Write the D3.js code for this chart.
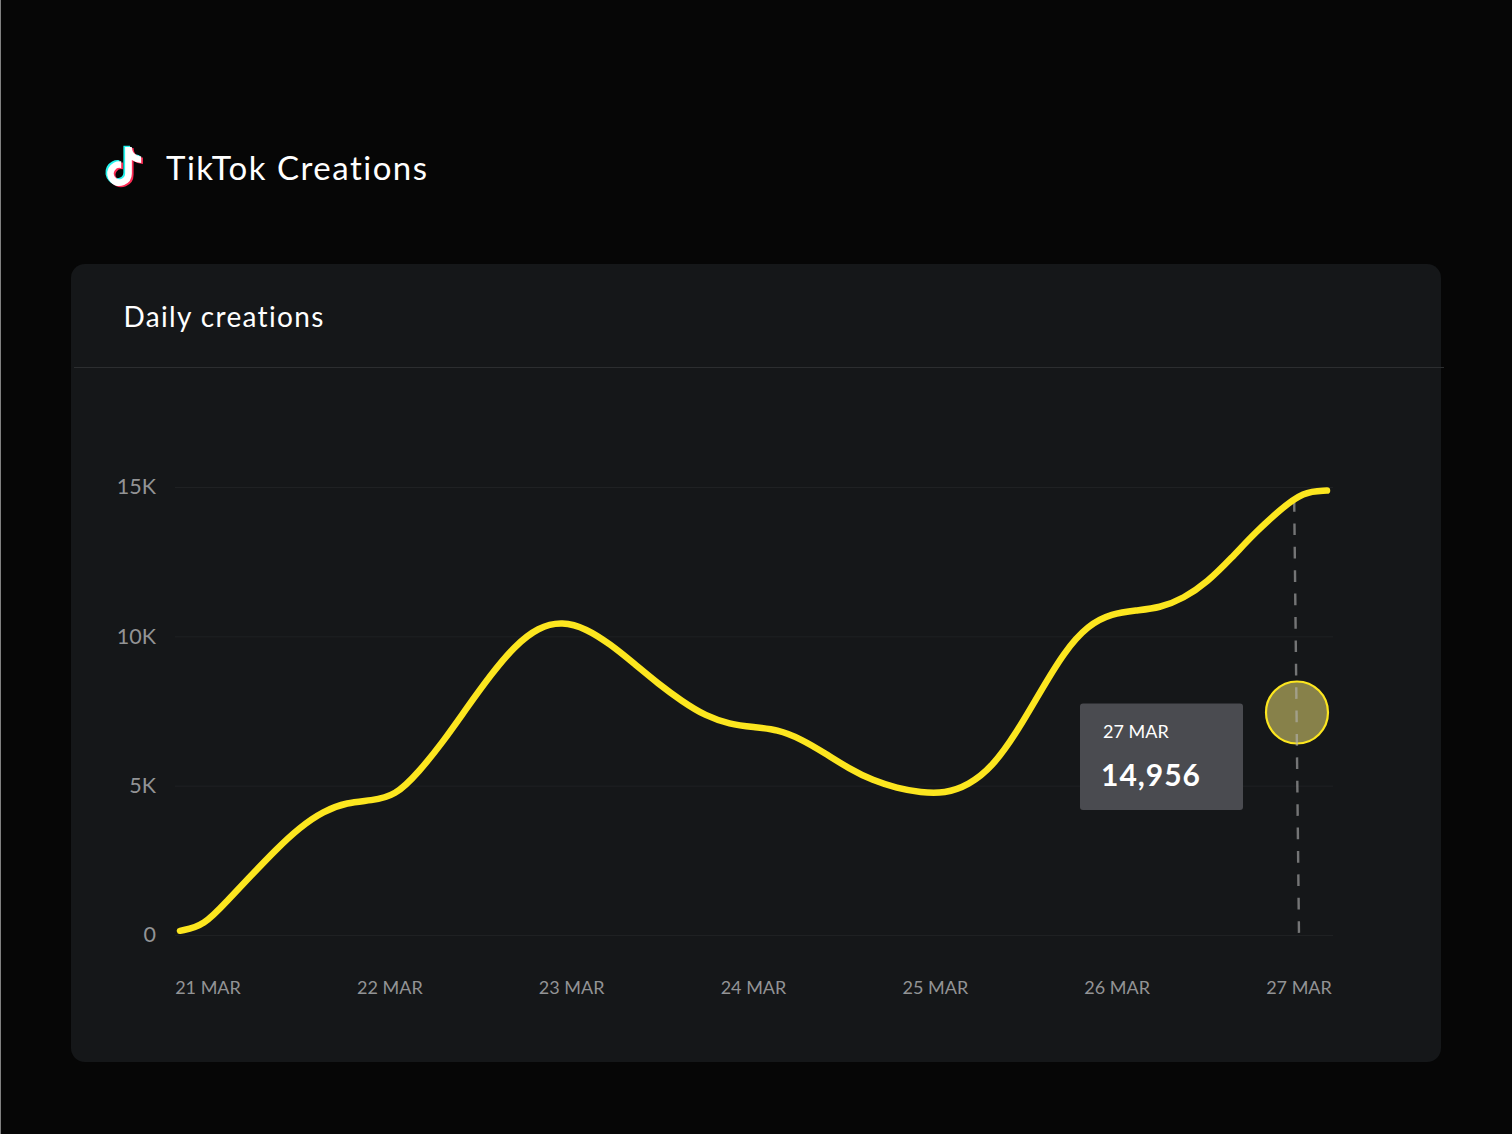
<!DOCTYPE html>
<html>
<head>
<meta charset="utf-8">
<style>
html, body { margin: 0; padding: 0; background: #060606; }
svg { display: block; font-family: Lato, sans-serif; }
</style>
</head>
<body>
<script src="https://d3js.org/d3.v7.min.js"></script>
<script>
// chart data
var days = ["21 MAR", "22 MAR", "23 MAR", "24 MAR", "25 MAR", "26 MAR", "27 MAR"];
// curve read every eighth of a day, one row per day, 21 MAR to 27 MAR
var creations = [
    140, 300, 1170, 2010, 2850, 3600, 4150, 4440,
    4500, 4650, 5460, 6460, 7600, 8710, 9680, 10310,
    10500, 10260, 9740, 9090, 8420, 7830, 7330, 7060,
    6960, 6880, 6560, 6080, 5570, 5170, 4920, 4770,
    4740, 5010, 5630, 6760, 8140, 9480, 10380, 10760,
    10870, 10950, 11270, 11820, 12620, 13480, 14210, 14850,
    14880
];
var yTicks = [0, 5000, 10000, 15000];
var yTickLabels = ["0", "5K", "10K", "15K"];
var tooltipDay = "27 MAR";
var tooltipValue = "14,956";

var width = 1512, height = 1134;

var svg = d3.select("body").append("svg")
    .attr("width", width)
    .attr("height", height);

svg.append("rect").attr("width", width).attr("height", height).attr("fill", "#060606");
svg.append("line").attr("x1", 0.5).attr("x2", 0.5).attr("y1", 0).attr("y2", height)
    .attr("stroke", "#808080");

// header with logo
var logoPath = "M19.589 6.686a4.793 4.793 0 0 1-3.77-4.245V2h-3.445v13.672a2.896 2.896 0 0 1-5.201 1.743l-.002-.001.002.001a2.895 2.895 0 0 1 3.183-4.51v-3.5a6.329 6.329 0 0 0-5.394 10.692 6.33 6.33 0 0 0 10.857-4.424V8.687a8.182 8.182 0 0 0 4.773 1.526V6.79a4.831 4.831 0 0 1-1.003-.104z";
var logo = svg.append("g").attr("transform", "translate(101,143) scale(1.95)");
logo.append("path").attr("d", logoPath).attr("fill", "#25f4ee").attr("transform", "translate(-0.9,-0.6)");
logo.append("path").attr("d", logoPath).attr("fill", "#fe2c55").attr("transform", "translate(0.9,0.6)");
logo.append("path").attr("d", logoPath).attr("fill", "#ffffff");

svg.append("text").attr("x", 166).attr("y", 180)
    .attr("font-size", 33).attr("letter-spacing", 1.5).attr("fill", "#ffffff")
    .text("TikTok Creations");

// card
svg.append("rect").attr("x", 71).attr("y", 264).attr("width", 1370).attr("height", 798)
    .attr("rx", 14).attr("fill", "#151719");
svg.append("text").attr("x", 123.5).attr("y", 327)
    .attr("font-size", 28).attr("letter-spacing", 1.35).attr("fill", "#ffffff")
    .text("Daily creations");
svg.append("line").attr("x1", 74).attr("x2", 1444).attr("y1", 367.5).attr("y2", 367.5)
    .attr("stroke", "#2c2e30");

// scales: line runs wider than the tick labels
var x = d3.scaleLinear().domain([0, creations.length - 1]).range([180, 1327]);
var xLabels = d3.scalePoint().domain(days).range([207.5, 1298.5]);
var y = d3.scaleLinear().domain([0, 15000]).range([935, 487]);

// horizontal grid + y labels
var yAxis = d3.axisLeft(y).tickValues(yTicks)
    .tickFormat(function (d, i) { return yTickLabels[i]; })
    .tickSize(-1158).tickPadding(19);
var yG = svg.append("g").attr("transform", "translate(175,0)").call(yAxis);
yG.select(".domain").remove();
yG.selectAll("line").attr("stroke", "#1f2123");
yG.selectAll("text").attr("font-size", 21.5).attr("font-family", "Lato, sans-serif").attr("fill", "#929395");

// x labels
var xAxis = d3.axisBottom(xLabels).tickSize(0).tickPadding(0);
var xG = svg.append("g").attr("transform", "translate(0,981)").call(xAxis);
xG.select(".domain").remove();
xG.selectAll("text").attr("font-size", 18).attr("font-family", "Lato, sans-serif")
    .attr("fill", "#929395");

// hover dot
svg.append("circle").attr("cx", 1297).attr("cy", 712.5).attr("r", 31)
    .attr("fill", "#87814a")
    .attr("stroke", "#fce61f").attr("stroke-width", 2.2);

// dashed marker, goes over the dot
svg.append("line").attr("x1", 1294.2).attr("y1", 500).attr("x2", 1299).attr("y2", 936)
    .attr("stroke", "#b4b4b4").attr("stroke-opacity", 0.6)
    .attr("stroke-width", 2.4).attr("stroke-dasharray", "11.7 11.7");

// creations curve
var line = d3.line()
    .x(function (d, i) { return x(i); })
    .y(function (d) { return y(d); })
    .curve(d3.curveBasis);
svg.append("path").datum(creations).attr("d", line)
    .attr("fill", "none").attr("stroke", "#fce61f")
    .attr("stroke-width", 6.5).attr("stroke-linecap", "round");

// tooltip
svg.append("rect").attr("x", 1080).attr("y", 703.5).attr("width", 163).attr("height", 106.5)
    .attr("rx", 3).attr("fill", "#4a4b50");
svg.append("text").attr("x", 1103).attr("y", 737.5)
    .attr("font-size", 18).attr("fill", "#ffffff").text(tooltipDay);
svg.append("text").attr("x", 1101).attr("y", 786)
    .attr("font-size", 30).attr("font-weight", 700).attr("letter-spacing", 1).attr("fill", "#ffffff").text(tooltipValue);
</script>
</body>
</html>
